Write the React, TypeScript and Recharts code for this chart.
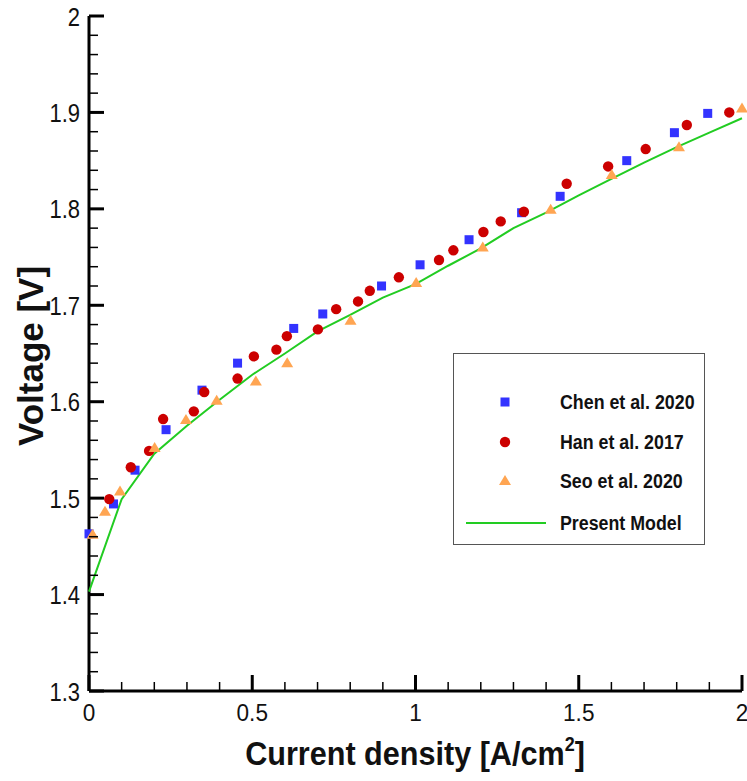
import { ScatterChart, Scatter, XAxis, YAxis, Legend } from 'recharts'

// Chen et al. 2020 (blue squares)
const chenX = [0.0, 0.075, 0.141, 0.236, 0.346, 0.455, 0.627, 0.716, 0.896, 1.014, 1.164, 1.325, 1.443, 1.647, 1.793, 1.895]
const chenY = [1.463, 1.494, 1.529, 1.571, 1.612, 1.640, 1.676, 1.691, 1.720, 1.742, 1.768, 1.796, 1.813, 1.850, 1.879, 1.899]

// Han et al. 2017 (red circles)
const hanX = [0.062, 0.128, 0.184, 0.227, 0.321, 0.353, 0.455, 0.505, 0.574, 0.606, 0.701, 0.757, 0.824, 0.860, 0.949, 1.072, 1.116, 1.208, 1.261, 1.332, 1.463, 1.590, 1.705, 1.831, 1.961]
const hanY = [1.499, 1.532, 1.549, 1.582, 1.590, 1.610, 1.624, 1.647, 1.654, 1.668, 1.675, 1.696, 1.704, 1.715, 1.729, 1.747, 1.757, 1.776, 1.787, 1.797, 1.826, 1.844, 1.862, 1.887, 1.900]

// Seo et al. 2020 (orange triangles)
const seoX = [0.011, 0.049, 0.095, 0.201, 0.297, 0.391, 0.511, 0.607, 0.801, 1.002, 1.206, 1.414, 1.601, 1.807, 2.0]
const seoY = [1.462, 1.486, 1.507, 1.552, 1.581, 1.601, 1.621, 1.640, 1.684, 1.723, 1.760, 1.799, 1.835, 1.864, 1.904]

// Present model (green line)
const modelX = [0, 0.1, 0.2, 0.3, 0.4, 0.5, 0.6, 0.7, 0.8, 0.9, 1.0, 1.1, 1.2, 1.3, 1.4, 1.5, 1.6, 1.7, 1.8, 1.9, 2.0]
const modelY = [1.403, 1.499, 1.546, 1.575, 1.602, 1.628, 1.650, 1.673, 1.690, 1.708, 1.722, 1.741, 1.759, 1.780, 1.796, 1.814, 1.831, 1.848, 1.864, 1.879, 1.894]

const seriesNames = ['Chen et al. 2020', 'Han et al. 2017', 'Seo et al. 2020', 'Present Model']

const xMajor = [0, 0.5, 1, 1.5, 2]
const yMajor = [1.3, 1.4, 1.5, 1.6, 1.7, 1.8, 1.9, 2]

const BLUE = '#3333ff'
const RED = '#cc0000'
const ORANGE = '#ffa552'
const GREEN = '#22cc22'
const FONT = '"Liberation Sans", Arial, Helvetica, sans-serif'
const TICK = '#000'

const zip = (xs: number[], ys: number[]) => xs.map((x, i) => ({ x, y: ys[i] }))

// minor ticks between the labelled ones (0.1 on x, 0.02 on y)
const xTickVals: number[] = []
for (let i = 0; i <= 20; i++) xTickVals.push(i / 10)
const yTickVals: number[] = []
for (let i = 0; i <= 35; i++) yTickVals.push(Math.round((1.3 + i * 0.02) * 100) / 100)

const isMajor = (v: number, list: number[]) => list.some(m => Math.abs(m - v) < 1e-6)

// ticks point inward, labels only on the major ones
function YTick({ x, y, payload }: any) {
  const major = isMajor(payload.value, yMajor)
  return (
    <g>
      <line x1={x} x2={x + (major ? 15 : 9)} y1={y} y2={y} stroke={TICK} strokeWidth={major ? 3 : 1.5} />
      {major && (
        <g transform={`translate(${x - 9},${y + 9.5}) scale(0.88,1)`}>
          <text x={0} y={0} textAnchor="end" fontSize={25} fontFamily={FONT} fill="#111">
            {String(payload.value)}
          </text>
        </g>
      )}
    </g>
  )
}

function XTick({ x, y, payload }: any) {
  const major = isMajor(payload.value, xMajor)
  return (
    <g>
      <line x1={x} x2={x} y1={y} y2={y - (major ? 16 : 9)} stroke={TICK} strokeWidth={major ? 3 : 1.5} />
      {major && (
        <g transform={`translate(${x},${y + 30}) scale(0.94,1)`}>
          <text x={0} y={0} textAnchor="middle" fontSize={24} fontFamily={FONT} fill="#111">
            {String(payload.value)}
          </text>
        </g>
      )}
    </g>
  )
}

const Square = ({ cx, cy }: any) => <rect x={cx - 4.5} y={cy - 4.5} width={9} height={9} fill={BLUE} />
const Dot = ({ cx, cy }: any) => <circle cx={cx} cy={cy} r={5.2} fill={RED} />
const Tri = ({ cx, cy }: any) => (
  <polygon points={`${cx},${cy - 6} ${cx + 6},${cy + 4} ${cx - 6},${cy + 4}`} fill={ORANGE} />
)
const NoMark = () => <g />

function LegendBox() {
  const icons = [
    <svg width={14} height={14}><rect x={2.5} y={2.5} width={9} height={9} fill={BLUE} /></svg>,
    <svg width={14} height={14}><circle cx={7} cy={7} r={5.2} fill={RED} /></svg>,
    <svg width={14} height={14}><polygon points="7,1 13,11 1,11" fill={ORANGE} /></svg>,
  ]
  const rowTop = [48, 88, 127, 169]
  return (
    <div style={{ position: 'relative', width: 252, height: 192, border: '1.5px solid #555', boxSizing: 'border-box', background: '#fff' }}>
      {seriesNames.map((name, i) => (
        <div key={name} style={{ position: 'absolute', left: 0, top: rowTop[i] - 12, height: 24, width: '100%' }}>
          {i < 3 ? (
            <div style={{ position: 'absolute', left: 44, top: 5 }}>{icons[i]}</div>
          ) : (
            <div style={{ position: 'absolute', left: 12, top: 11, width: 80, height: 2, background: GREEN }} />
          )}
          <div
            style={{
              position: 'absolute', left: 106, top: 0, lineHeight: '24px', fontSize: 20, fontWeight: 700,
              fontFamily: FONT, color: '#111', whiteSpace: 'nowrap', transform: 'scaleX(0.89)', transformOrigin: 'left center',
            }}
          >
            {name}
          </div>
        </div>
      ))}
    </div>
  )
}

export default function App() {
  return (
    <div style={{ position: 'absolute', left: 0, top: 0, width: 747, height: 781, background: '#fff' }}>
      <ScatterChart width={747} height={781} margin={{ top: 16, right: 5, bottom: 0, left: 0 }}>
        <XAxis
          type="number"
          dataKey="x"
          domain={[0, 2]}
          ticks={xTickVals}
          interval={0}
          height={90}
          tickSize={0}
          tickMargin={0}
          tickLine={false}
          axisLine={{ stroke: '#000', strokeWidth: 3 }}
          tick={<XTick />}
        />
        <YAxis
          type="number"
          dataKey="y"
          domain={[1.3, 2]}
          ticks={yTickVals}
          interval={0}
          width={89}
          tickSize={0}
          tickMargin={0}
          tickLine={false}
          axisLine={{ stroke: '#000', strokeWidth: 3 }}
          tick={<YTick />}
        />
        <Legend
          layout="vertical"
          align="center"
          verticalAlign="middle"
          content={() => <LegendBox />}
          wrapperStyle={{ left: 453, top: 353, width: 252, height: 192 }}
        />
        <Scatter
          name={seriesNames[3]}
          data={zip(modelX, modelY)}
          line={{ stroke: GREEN, strokeWidth: 2 }}
          shape={<NoMark />}
          isAnimationActive={false}
        />
        <Scatter name={seriesNames[0]} data={zip(chenX, chenY)} shape={<Square />} isAnimationActive={false} />
        <Scatter name={seriesNames[1]} data={zip(hanX, hanY)} shape={<Dot />} isAnimationActive={false} />
        <Scatter name={seriesNames[2]} data={zip(seoX, seoY)} shape={<Tri />} isAnimationActive={false} />
        <text
          transform="translate(43,356) rotate(-90)"
          textAnchor="middle"
          fontSize={35}
          fontWeight={700}
          fontFamily={FONT}
          fill="#111"
        >
          Voltage [V]
        </text>
        <g transform="translate(415,765) scale(0.9,1)">
          <text x={0} y={0} textAnchor="middle" fontSize={34} fontWeight={700} fontFamily={FONT} fill="#111">
            Current density [A/cm
            <tspan fontSize={20} dy={-14}>2</tspan>
            <tspan dy={14}>]</tspan>
          </text>
        </g>
      </ScatterChart>
    </div>
  )
}
